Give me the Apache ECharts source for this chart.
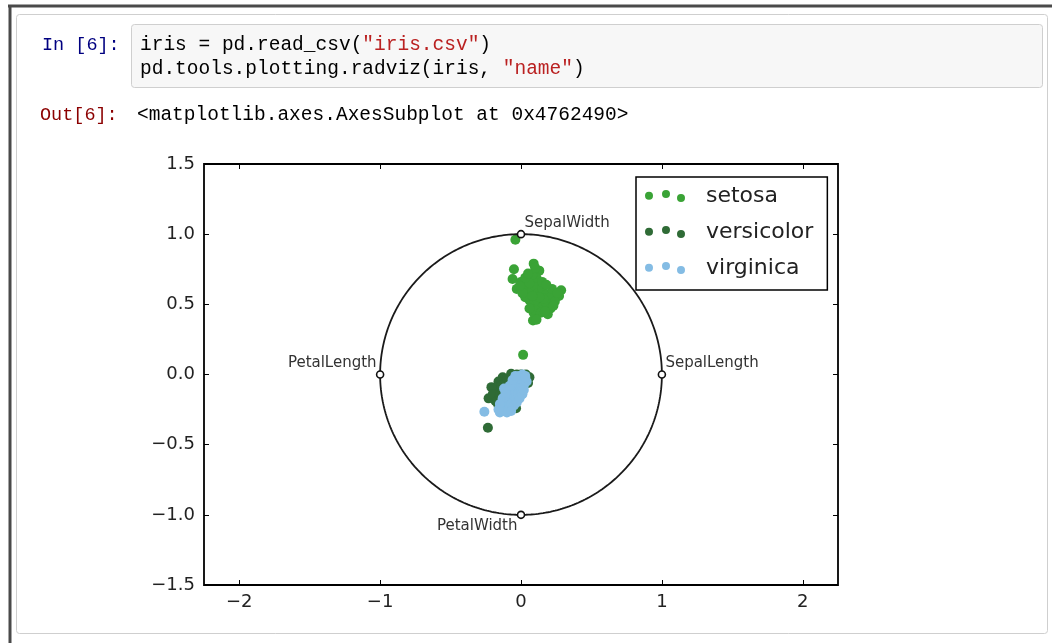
<!DOCTYPE html>
<html>
<head>
<meta charset="utf-8">
<script src="https://cdn.jsdelivr.net/npm/echarts@6/dist/echarts.min.js"></script>
<style>
html,body{margin:0;padding:0;background:#fff;}
#chart{width:1052px;height:643px;}
</style>
</head>
<body>
<div id="chart"></div>
<script>
// ---- data ----
var speciesNames = ['setosa', 'versicolor', 'virginica'];
var speciesColors = ['#3aa336', '#2f6b36', '#84bce4'];

var setosaPts = [
  [-0.04,0.96],[0.015,0.14],
  [0.09,0.79],[0.13,0.74],[-0.05,0.75],[-0.06,0.68],[-0.03,0.61],[0.285,0.60],[0.27,0.56],[0.19,0.43],
  [0.085,0.385],[0.09,0.44],[0.0,0.66],[0.03,0.62],[0.05,0.58],[0.08,0.60],[0.10,0.63],[0.12,0.58],
  [0.15,0.61],[0.18,0.57],[0.21,0.55],[0.22,0.61],[0.06,0.53],[0.09,0.50],[0.12,0.52],[0.15,0.48],
  [0.18,0.51],[0.21,0.47],[0.10,0.46],[0.14,0.44],[0.06,0.47],[0.03,0.55],[0.11,0.69],[0.15,0.66],
  [0.08,0.71],[0.06,0.65],[0.16,0.54],[0.01,0.58],[0.24,0.52],[0.26,0.58],[0.18,0.64],[0.03,0.69],
  [0.13,0.55],[0.08,0.56],[-0.01,0.63],[0.17,0.45],[0.11,0.39],[0.23,0.49],[0.10,0.76],[0.05,0.72]
];
var versicolorPts = [
  [-0.235,-0.38],[-0.21,-0.09],[-0.23,-0.17],[-0.19,-0.10],[-0.13,-0.02],[-0.07,0.005],[-0.18,-0.19],
  [-0.20,-0.14],[-0.16,-0.05],[-0.17,-0.19],[-0.15,-0.15],[-0.13,-0.12],[-0.11,-0.08],[-0.09,-0.05],
  [-0.05,-0.01],[-0.03,0.0],[0.0,0.0],[0.035,0.0],[0.06,-0.02],[-0.16,-0.22],[-0.14,-0.18],[-0.12,-0.14],
  [-0.10,-0.11],[-0.08,-0.09],[-0.06,-0.06],[-0.04,-0.04],[-0.02,-0.02],[-0.13,-0.20],[-0.11,-0.16],
  [-0.09,-0.13],[-0.07,-0.10],[-0.05,-0.08],[-0.03,-0.06],[-0.01,-0.04],[0.01,-0.02],[0.03,-0.05],
  [-0.10,-0.22],[-0.08,-0.18],[-0.06,-0.15],[-0.04,-0.12],[-0.02,-0.09],[0.0,-0.07],[-0.08,-0.25],
  [-0.05,-0.20],[-0.035,-0.24],[-0.12,-0.26],[-0.15,-0.24],[-0.10,-0.03],[-0.14,-0.08],[0.05,-0.06]
];
var virginicaPts = [
  [-0.26,-0.265],[-0.15,-0.27],[-0.13,-0.26],[-0.14,-0.23],[-0.12,-0.22],[-0.10,-0.24],[-0.11,-0.19],
  [-0.09,-0.20],[-0.08,-0.23],[-0.13,-0.17],[-0.10,-0.16],[-0.08,-0.17],[-0.06,-0.19],[-0.07,-0.14],
  [-0.05,-0.15],[-0.04,-0.18],[-0.09,-0.12],[-0.06,-0.11],[-0.04,-0.12],[-0.02,-0.14],[-0.03,-0.09],
  [-0.01,-0.10],[0.0,-0.12],[-0.05,-0.07],[-0.02,-0.06],[0.0,-0.07],[0.02,-0.08],[-0.03,-0.03],
  [0.0,-0.03],[0.02,-0.04],[0.03,-0.01],[0.01,0.0],[-0.01,-0.01],[-0.11,-0.13],[-0.12,-0.10],
  [-0.07,-0.21],[-0.05,-0.22],[-0.03,-0.20],[-0.01,-0.17],[0.01,-0.14],[0.02,-0.11],[-0.08,-0.08],
  [-0.06,-0.04],[-0.10,-0.27],[-0.07,-0.26],[-0.15,-0.21],[-0.16,-0.25],[0.04,-0.05],[0.03,-0.02],[-0.04,-0.01]
];
var anchorNames = ['SepalLength', 'SepalWidth', 'PetalLength', 'PetalWidth'];
var anchorX = [1, 0, -1, 0];
var anchorY = [0, 1, 0, -1];
var xTicks = [-2, -1, 0, 1, 2];
var yTicks = [-1.5, -1.0, -0.5, 0.0, 0.5, 1.0, 1.5];
var xMin = -2.25, xMax = 2.25, yMin = -1.5, yMax = 1.5;

var codeLine1 = ['iris = pd.read_csv(', '"iris.csv"', ')'];
var codeLine2 = ['pd.tools.plotting.radviz(iris, ', '"name"', ')'];
var inPrompt = 'In [6]:';
var outPrompt = 'Out[6]:';
var outText = '<matplotlib.axes.AxesSubplot at 0x4762490>';

// label placement style per anchor (which side of the anchor the text sits)
var anchorLabelAlign = ['left', 'left', 'right', 'right'];
var anchorLabelVAlign = ['bottom', 'bottom', 'bottom', 'top'];

// ---- build chart ----
var chart = echarts.init(document.getElementById('chart'), null, {renderer: 'canvas'});

var circlePts = [];
for (var i = 0; i <= 360; i++) {
  var a = i * Math.PI / 180;
  circlePts.push([Math.cos(a), Math.sin(a)]);
}

var anchorData = anchorNames.map(function (n, k) {
  var al = anchorLabelAlign[k], va = anchorLabelVAlign[k];
  return {
    value: [anchorX[k], anchorY[k]],
    name: n,
    label: {
      show: true,
      position: 'inside',
      align: al,
      verticalAlign: va,
      offset: [al === 'right' ? -3.5 : 3.5, va === 'top' ? 3.5 : -3.5]
    }
  };
});

var legendIcon = 'path://M0,6A4,4,0,1,0,8,6A4,4,0,1,0,0,6Z M17,4.3A4,4,0,1,0,25,4.3A4,4,0,1,0,17,4.3Z M32,8.3A4,4,0,1,0,40,8.3A4,4,0,1,0,32,8.3Z';

var tickFont = {fontFamily: 'DejaVu Sans', fontSize: 18, color: '#222'};
function minusFmt(s) { return s.replace('-', '\u2212'); }

var ptsBySpecies = [setosaPts, versicolorPts, virginicaPts];
var series = speciesNames.map(function (nm, k) {
  return {
    type: 'scatter',
    name: nm,
    data: ptsBySpecies[k],
    symbol: 'circle',
    symbolSize: 10,
    itemStyle: {color: speciesColors[k], opacity: 1},
    z: 2 + k,
    silent: true
  };
});
series.push({
  type: 'line',
  name: 'circle',
  data: circlePts,
  showSymbol: false,
  smooth: false,
  lineStyle: {color: '#1a1a1a', width: 1.8},
  z: 6,
  silent: true
});
series.push({
  type: 'scatter',
  name: 'anchors',
  data: anchorData,
  symbol: 'circle',
  symbolSize: 7,
  itemStyle: {color: '#fff', borderColor: '#111', borderWidth: 1.6, opacity: 1},
  label: {
    formatter: '{b}',
    fontFamily: 'DejaVu Sans',
    fontSize: 15,
    color: '#333'
  },
  z: 7,
  silent: true
});

var codeRich = {
  c: {fill: '#000', fontFamily: 'Liberation Mono', fontSize: 19.5},
  s: {fill: '#ba2121', fontFamily: 'Liberation Mono', fontSize: 19.5}
};
function richLine(parts) {
  return '{c|' + parts[0] + '}{s|' + parts[1] + '}{c|' + parts[2] + '}';
}

function tickCfg(vals) {
  return {show: true, inside: true, length: 5, customValues: vals, lineStyle: {color: '#000', width: 1}};
}

var option = {
  animation: false,
  backgroundColor: '#fff',
  grid: {
    left: 204, top: 164, width: 634, height: 421,
    show: true, borderColor: '#000', borderWidth: 1.8, backgroundColor: 'transparent',
    containLabel: false
  },
  legend: {
    data: speciesNames,
    orient: 'vertical',
    left: 636, top: 177,
    icon: legendIcon,
    itemWidth: 40, itemHeight: 12,
    itemGap: 14,
    padding: [8, 14, 11, 9],
    borderColor: '#000', borderWidth: 1.5,
    backgroundColor: '#fff',
    selectedMode: false,
    textStyle: {fontFamily: 'DejaVu Sans', fontSize: 22, color: '#222', lineHeight: 22, padding: [0, 0, 0, 16]},
    z: 20
  },
  xAxis: [
    {
      type: 'value', position: 'bottom', min: xMin, max: xMax,
      axisLine: {show: false, onZero: false}, splitLine: {show: false},
      axisTick: tickCfg(xTicks),
      axisLabel: Object.assign({show: true, margin: 8, customValues: xTicks,
        formatter: function (v) { return minusFmt(String(v)); }}, tickFont)
    },
    {
      type: 'value', position: 'top', min: xMin, max: xMax,
      axisLine: {show: false, onZero: false}, splitLine: {show: false},
      axisTick: tickCfg(xTicks),
      axisLabel: {show: false}
    }
  ],
  yAxis: [
    {
      type: 'value', position: 'left', min: yMin, max: yMax,
      axisLine: {show: false, onZero: false}, splitLine: {show: false},
      axisTick: tickCfg(yTicks),
      axisLabel: Object.assign({show: true, margin: 9, customValues: yTicks,
        formatter: function (v) { return minusFmt(Number(v).toFixed(1)); }}, tickFont)
    },
    {
      type: 'value', position: 'right', min: yMin, max: yMax,
      axisLine: {show: false, onZero: false}, splitLine: {show: false},
      axisTick: tickCfg(yTicks),
      axisLabel: {show: false}
    }
  ],
  series: series,
  graphic: [
    {type: 'line', shape: {x1: 8, y1: 6, x2: 1052, y2: 6}, style: {stroke: '#4a4a4a', lineWidth: 3}, z: -5, silent: true},
    {type: 'line', shape: {x1: 10, y1: 6, x2: 10, y2: 643}, style: {stroke: '#4a4a4a', lineWidth: 3}, z: -5, silent: true},
    {type: 'rect', shape: {x: 16.5, y: 14.5, width: 1031, height: 619, r: 3}, style: {fill: 'none', stroke: '#cfcfcf', lineWidth: 1}, z: -5, silent: true},
    {type: 'rect', shape: {x: 131.5, y: 24.5, width: 911, height: 63, r: 3}, style: {fill: '#f7f7f7', stroke: '#cfcfcf', lineWidth: 1}, z: -4, silent: true},
    {type: 'text', x: 42, y: 45, style: {text: inPrompt, fill: '#000080', font: '18.5px "Liberation Mono"', verticalAlign: 'middle', align: 'left'}, z: -3, silent: true},
    {type: 'text', x: 40, y: 115, style: {text: outPrompt, fill: '#8b0000', font: '18.5px "Liberation Mono"', verticalAlign: 'middle', align: 'left'}, z: -3, silent: true},
    {type: 'text', x: 140, y: 45, style: {text: richLine(codeLine1), rich: codeRich, verticalAlign: 'middle', align: 'left'}, z: -3, silent: true},
    {type: 'text', x: 140, y: 69, style: {text: richLine(codeLine2), rich: codeRich, verticalAlign: 'middle', align: 'left'}, z: -3, silent: true},
    {type: 'text', x: 137, y: 115, style: {text: outText, fill: '#000', font: '19.5px "Liberation Mono"', verticalAlign: 'middle', align: 'left'}, z: -3, silent: true}
  ]
};
chart.setOption(option);
</script>
</body>
</html>
